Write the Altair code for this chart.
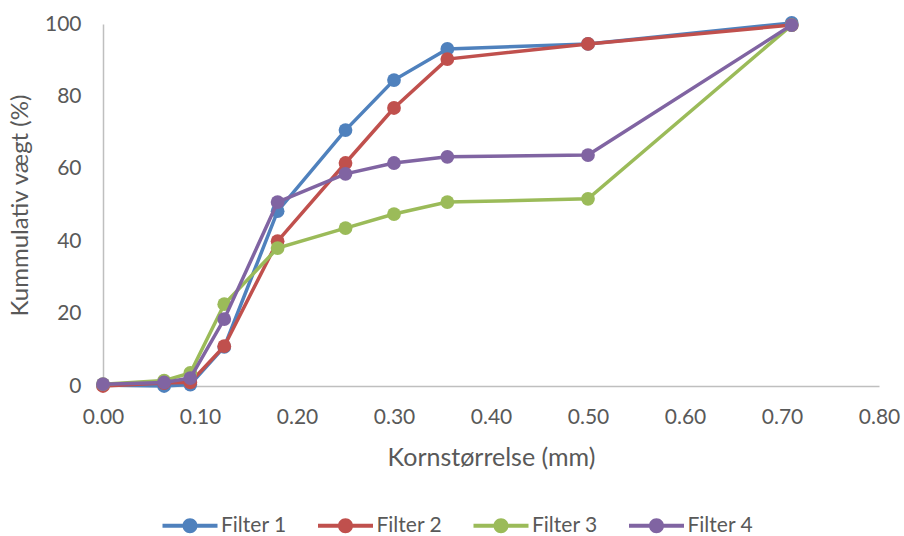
import altair as alt
import pandas as pd

x_vals = [0.0, 0.063, 0.09, 0.125, 0.18, 0.25, 0.30, 0.355, 0.50, 0.71]
filter1 = [0.3, 0.0, 0.4, 10.8, 48.3, 70.7, 84.5, 93.1, 94.5, 100.3]
filter2 = [0.0, 0.8, 1.0, 11.0, 40.0, 61.6, 76.8, 90.3, 94.5, 99.7]
filter3 = [0.5, 1.5, 3.6, 22.6, 38.1, 43.6, 47.5, 50.8, 51.7, 99.7]
filter4 = [0.5, 1.0, 2.2, 18.5, 50.8, 58.6, 61.6, 63.3, 63.8, 99.7]
series_names = ["Filter 1", "Filter 2", "Filter 3", "Filter 4"]
colors = ["#4F81BD", "#C0504D", "#9BBB59", "#8064A2"]

rows = []
for name, vals in zip(series_names, [filter1, filter2, filter3, filter4]):
    for i, (xv, yv) in enumerate(zip(x_vals, vals)):
        rows.append({"x": xv, "y": yv, "serie": name, "order": i})
df = pd.DataFrame(rows)

FONT = "Lato"
GRAY = "#595959"

xenc = alt.X("x:Q", scale=alt.Scale(domain=[0, 0.8], nice=False),
             axis=alt.Axis(values=[0, 0.1, 0.2, 0.3, 0.4, 0.5, 0.6, 0.7, 0.8],
                           format=".2f", title="Kornstørrelse (mm)", grid=False,
                           ticks=False, labelPadding=20, titlePadding=18,
                           labelFlush=False, labelOverlap=False,
                           labelFontSize=21, titleFontSize=25,
                           domainColor="#BFBFBF", domainWidth=1.5))
yenc = alt.Y("y:Q", scale=alt.Scale(domain=[0, 100], nice=False),
             axis=alt.Axis(values=[0, 20, 40, 60, 80, 100], title="Kummulativ vægt (%)",
                           grid=False, ticks=False, labelPadding=22, titlePadding=12,
                           labelFlush=False, labelOverlap=False,
                           labelFontSize=21, titleFontSize=24,
                           domainColor="#BFBFBF", domainWidth=1.5))
cscale = alt.Scale(domain=series_names, range=colors)

legend_path = ("M-2.75,-0.2 L2.75,-0.2 L2.75,0.2 L-2.75,0.2 Z "
               "M-0.75,0 A0.75,0.75 0 1,1 0.75,0 A0.75,0.75 0 1,1 -0.75,0 Z")

legend = alt.Legend(title=None, orient="none", direction="horizontal",
                    legendX=76.5, legendY=491,
                    symbolType=legend_path, symbolSize=400,
                    symbolStrokeWidth=0, labelOffset=20.5,
                    columnPadding=30.5, labelFontSize=21,
                    labelColor=GRAY, labelFont=FONT)

layers = []
for idx, name in enumerate(series_names):
    base = alt.Chart(df).transform_filter(alt.datum.serie == name)
    line = base.mark_line(strokeWidth=3.5, clip=False, color=colors[idx]).encode(
        x=xenc, y=yenc, order="order:Q")
    pt = base.mark_point(filled=True, size=190, opacity=1, clip=False).encode(
        x=xenc, y=yenc,
        color=alt.Color("serie:N", scale=cscale, legend=legend))
    layers += [line, pt]

chart = alt.layer(*layers).properties(
    width=776, height=362,
    background="white",
    autosize=alt.AutoSizeParams(type="none"),
    padding={"left": 103, "top": 24, "right": 25, "bottom": 150},
).configure_view(stroke=None).configure_axis(
    labelFont=FONT, titleFont=FONT, labelColor=GRAY, titleColor=GRAY,
    titleFontWeight="normal"
)

chart.save("out.html", embed_options={"renderer": "svg", "actions": False})
